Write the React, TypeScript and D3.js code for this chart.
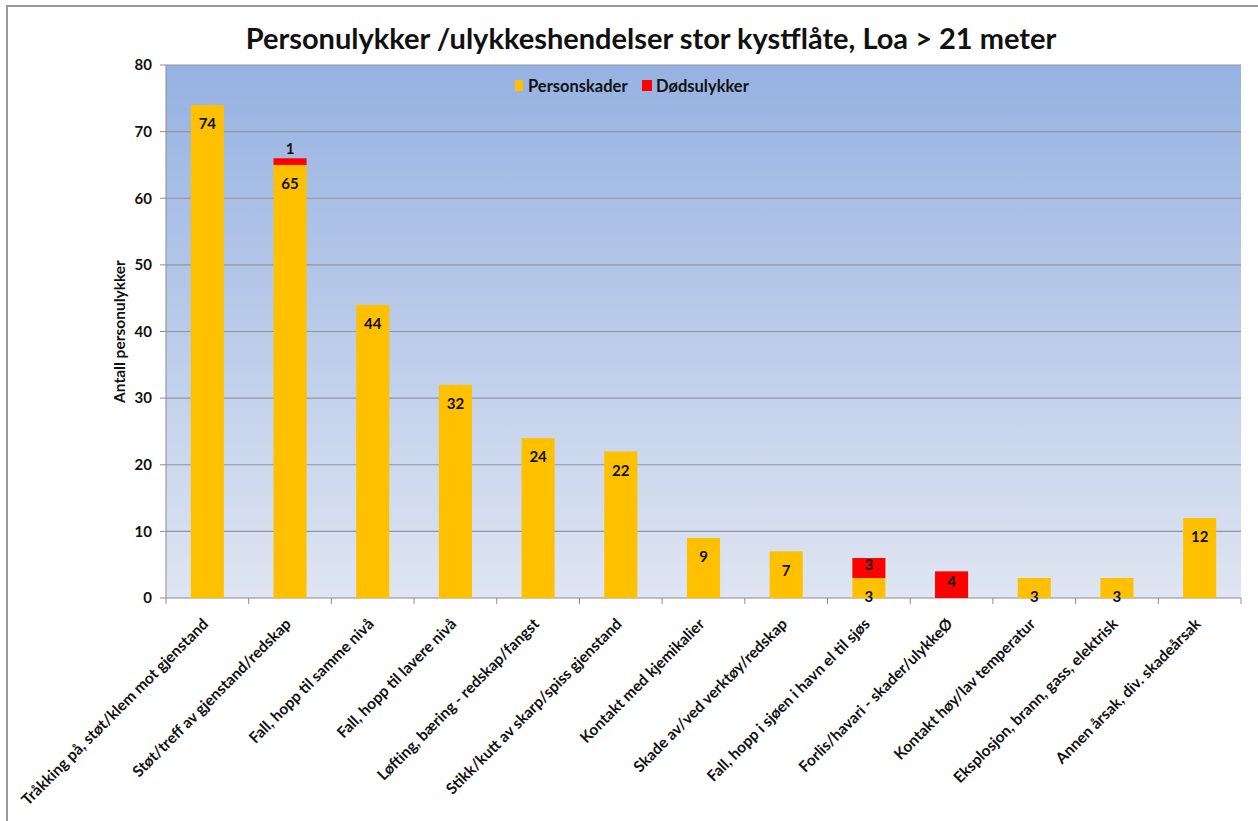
import React from 'react';
import * as d3 from 'd3';

const categories = [
  'Tråkking på, støt/klem mot gjenstand',
  'Støt/treff av gjenstand/redskap',
  'Fall, hopp til samme nivå',
  'Fall, hopp til lavere nivå',
  'Løfting, bæring - redskap/fangst',
  'Stikk/kutt av skarp/spiss gjenstand',
  'Kontakt med kjemikalier',
  'Skade av/ved verktøy/redskap',
  'Fall, hopp i sjøen i havn el til sjøs',
  'Forlis/havari - skader/ulykkeØ',
  'Kontakt høy/lav temperatur',
  'Eksplosjon, brann, gass, elektrisk',
  'Annen årsak, div. skadeårsak',
];
const personskader = [74, 65, 44, 32, 24, 22, 9, 7, 3, 0, 3, 3, 12];
const dodsulykker = [0, 1, 0, 0, 0, 0, 0, 0, 3, 4, 0, 0, 0];
const yTicks = [0, 10, 20, 30, 40, 50, 60, 70, 80];

const W = 1258;
const H = 821;
const left = 166;
const right = 1241;
const top = 65;
const bottom = 598;
const font = 'Lato, "Open Sans", sans-serif';
const YELLOW = '#ffc000';
const RED = '#ff0000';

const App = () => {
  const x = d3.scaleBand<number>().domain(d3.range(categories.length)).range([left, right]).paddingInner(0.6).paddingOuter(0.3);
  const y = d3.scaleLinear().domain([0, 80]).range([bottom, top]);
  const step = x.step();
  const bw = x.bandwidth();
  const cx = (i: number) => (x(i) as number) + bw / 2;

  return (
    <svg width={W} height={H} style={{ position: 'absolute', left: 0, top: 0, background: '#fff' }} fontFamily={font}>
      <defs>
        <linearGradient id="bg" x1="0" y1="0" x2="0" y2="1">
          <stop offset="0" stopColor="#96b2e2" />
          <stop offset="1" stopColor="#dfe5f1" />
        </linearGradient>
      </defs>
      {/* outer border, only top and left are visible */}
      <line x1={6} y1={6} x2={W} y2={6} stroke="#9a9a9a" strokeWidth={2} />
      <line x1={7} y1={6} x2={7} y2={H} stroke="#9a9a9a" strokeWidth={2} />

      <text x={651} y={49} textAnchor="middle" fontSize={29} fontWeight="bold" fill="#111">
        Personulykker /ulykkeshendelser stor kystflåte, Loa &gt; 21 meter
      </text>

      <rect x={left} y={top} width={right - left} height={bottom - top} fill="url(#bg)" />
      {yTicks.filter((t) => t > 0).map((t) => (
        <line key={t} x1={left} x2={right} y1={y(t)} y2={y(t)} stroke="#8f96a3" strokeWidth={1.2} />
      ))}

      {/* y axis */}
      <line x1={left} x2={left} y1={top} y2={bottom} stroke="#8c8c8c" />
      {yTicks.map((t) => (
        <g key={t}>
          <line x1={left - 6} x2={left} y1={y(t)} y2={y(t)} stroke="#8c8c8c" />
          <text x={left - 14} y={y(t)} dy="0.35em" textAnchor="end" fontSize={15} fontWeight="bold" fill="#111">
            {t}
          </text>
        </g>
      ))}
      <text transform={`translate(125,${(top + bottom) / 2}) rotate(-90)`} textAnchor="middle" fontSize={15.5} fontWeight="bold" fill="#111">
        Antall personulykker
      </text>

      {/* x axis */}
      <line x1={left} x2={right} y1={bottom} y2={bottom} stroke="#8c8c8c" />
      {d3.range(categories.length + 1).map((k) => (
        <line key={k} x1={left + k * step} x2={left + k * step} y1={bottom} y2={bottom + 6} stroke="#8c8c8c" />
      ))}
      {categories.map((c, i) => (
        <text key={c} transform={`translate(${cx(i) + 2},${bottom + 27}) rotate(-45)`} textAnchor="end" fontSize={15.5} fontWeight="bold" fill="#111">
          {c}
        </text>
      ))}

      {/* bars */}
      {categories.map((c, i) => {
        const p = personskader[i];
        const d = dodsulykker[i];
        return (
          <g key={c}>
            {p > 0 && <rect x={x(i)} y={y(p)} width={bw} height={y(0) - y(p)} fill={YELLOW} />}
            {d > 0 && <rect x={x(i)} y={y(p + d)} width={bw} height={y(p) - y(p + d)} fill={RED} />}
          </g>
        );
      })}
      {/* data labels */}
      {categories.map((c, i) => {
        const p = personskader[i];
        const d = dodsulykker[i];
        const redH = y(p) - y(p + d);
        return (
          <g key={c} fontSize={15} fontWeight="bold" fill="#111" textAnchor="middle">
            {p > 0 && (
              <text x={cx(i)} y={y(p) + 19} dy="0.35em">
                {p}
              </text>
            )}
            {d > 0 && (
              <text x={cx(i)} y={redH < 14 ? y(p + d) - 10 : (y(p) + y(p + d)) / 2 - 3} dy="0.35em">
                {d}
              </text>
            )}
          </g>
        );
      })}

      {/* legend */}
      <g fontSize={16.5} fontWeight="bold" fill="#111">
        <rect x={515} y={80} width={8} height={11} fill={YELLOW} />
        <text x={528} y={86} dy="0.35em">Personskader</text>
        <rect x={642} y={80} width={10} height={11} fill={RED} />
        <text x={656} y={86} dy="0.35em">Dødsulykker</text>
      </g>
    </svg>
  );
};

export default App;
